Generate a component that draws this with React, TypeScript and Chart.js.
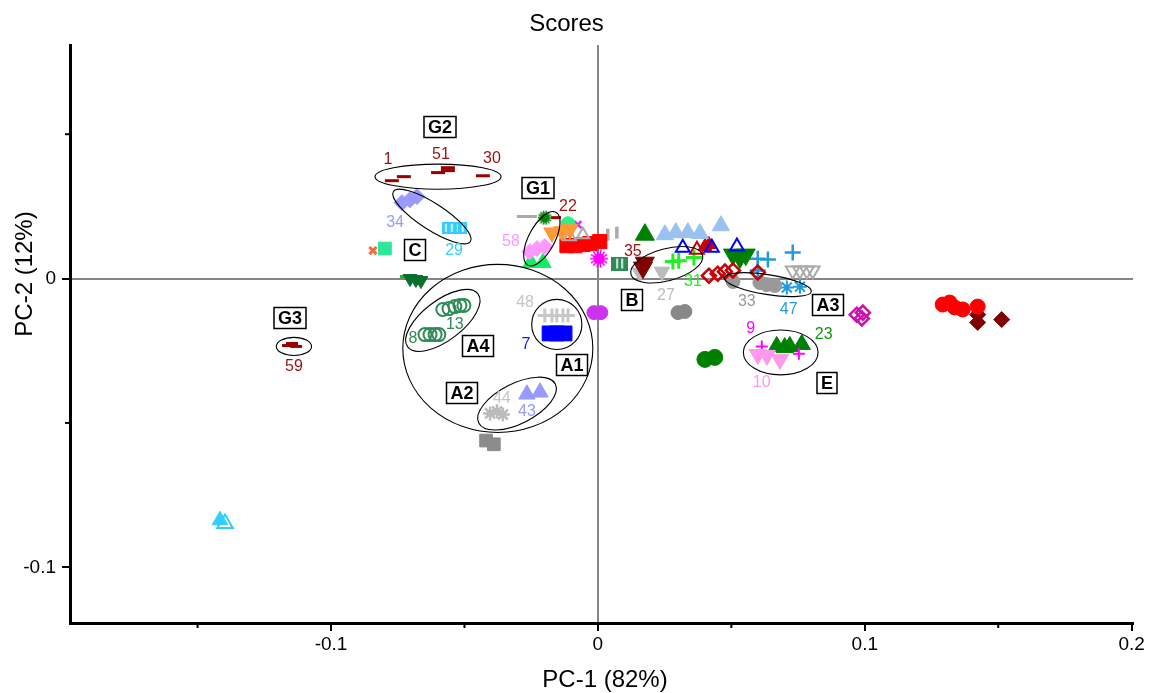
import React, { useEffect, useRef } from 'react';
import { Chart, registerables } from 'chart.js';

Chart.register(...registerables);

type Pt = [number, number];

const FONT = "'Liberation Sans', Arial, Helvetica, sans-serif";

// Axis extents and tick spacing
const xRange: Pt = [-0.1978, 0.2005];
const yRange: Pt = [-0.1193, 0.0809];
const tickStep = 0.05;

// Score coordinates (PC-1, PC-2) for each sample group
const cyanTriFilled: Pt[] = [[-0.1416, -0.0837]];
const cyanTriOpen: Pt[] = [[-0.1397, -0.0848]];
const s59: Pt[] = [[-0.1161, -0.0232], [-0.1131, -0.0235], [-0.1146, -0.0225]];
const s1_51_30: Pt[] = [[-0.0772, 0.0339], [-0.0727, 0.0353], [-0.0599, 0.0367], [-0.0562, 0.0384], [-0.0562, 0.0374], [-0.0431, 0.0356]];
const s34: Pt[] = [[-0.0734, 0.0263], [-0.0704, 0.0273], [-0.0678, 0.0284]];
const s29: Pt[] = [[-0.0569, 0.0176], [-0.0547, 0.0176], [-0.0524, 0.0176], [-0.0506, 0.0176]];
const cOrangeX: Pt[] = [[-0.0843, 0.0097]];
const cTeal: Pt[] = [[-0.0798, 0.0104]];
const cOrangeSmall: Pt[] = [[-0.0794, 0.0100]];
const cGreenDown: Pt[] = [[-0.0704, 0.0], [-0.0682, -0.0003], [-0.0663, -0.0007]];
const cGreenDash: Pt[] = [[-0.0723, 0.0007]];
const s13: Pt[] = [[-0.0581, -0.0107], [-0.0558, -0.0104], [-0.0536, -0.0097], [-0.0517, -0.0093], [-0.0502, -0.0093]];
const s8: Pt[] = [[-0.0648, -0.0194], [-0.0629, -0.0194], [-0.0610, -0.0194], [-0.0596, -0.0194]];
const s48: Pt[] = [[-0.0199, -0.0128], [-0.0172, -0.0128], [-0.0154, -0.0128], [-0.0131, -0.0128], [-0.0112, -0.0128]];
const s7: Pt[] = [[-0.0181, -0.0190], [-0.0154, -0.0190], [-0.0125, -0.0190]];
const s44: Pt[] = [[-0.0404, -0.0467], [-0.0378, -0.0460], [-0.0356, -0.0471]];
const s43: Pt[] = [[-0.0266, -0.0401], [-0.0217, -0.0394]];
const graySquares: Pt[] = [[-0.0419, -0.0561], [-0.0390, -0.0574]];
const g1GrayDash: Pt[] = [[-0.0266, 0.0215]];
const s58: Pt[] = [[-0.0255, 0.0093], [-0.0228, 0.0104], [-0.0199, 0.0111]];
const g1Flower: Pt[] = [[-0.0199, 0.0211]];
const s22: Pt[] = [[-0.0157, 0.0211]];
const brightGreenTri: Pt[] = [[-0.0251, 0.0055], [-0.0206, 0.0055]];
const orangeDown: Pt[] = [[-0.0172, 0.0159], [-0.0135, 0.0163], [-0.0105, 0.0170]];
const mintCircle: Pt[] = [[-0.0112, 0.0190]];
const grayOpenTri: Pt[] = [[-0.0105, 0.0145], [-0.0056, 0.0152]];
const violetX: Pt[] = [[-0.0075, 0.0187]];
const redSquares: Pt[] = [[-0.0116, 0.0114], [-0.0086, 0.0114], [-0.0056, 0.0118], [-0.0030, 0.0121], [0.0007, 0.0128]];
const grayBars: Pt[] = [[0.0037, 0.0152], [0.0071, 0.0159]];
const magentaBurst: Pt[] = [[0.0004, 0.0069]];
const seaBarbox: Pt[] = [[0.0082, 0.0052]];
const purpleCircles: Pt[] = [[-0.0015, -0.0118], [0.0011, -0.0118]];
const greenTri: Pt[] = [[0.0176, 0.0152]];
const steelTri: Pt[] = [[0.0251, 0.0152], [0.0292, 0.0159], [0.0337, 0.0159], [0.0382, 0.0156], [0.0461, 0.0183]];
const blueOpenTri: Pt[] = [[0.0318, 0.0107], [0.0427, 0.0107], [0.0521, 0.0111]];
const redOpenTri: Pt[] = [[0.0371, 0.0100]];
const redTri: Pt[] = [[0.0401, 0.0111], [0.0416, 0.0118]];
const s35: Pt[] = [[0.0176, 0.0055], [0.0169, 0.0038]];
const s27: Pt[] = [[0.0157, 0.0021], [0.0240, 0.0024]];
const s31: Pt[] = [[0.0281, 0.0059], [0.0303, 0.0062], [0.0360, 0.0073]];
const redOpenDiamonds: Pt[] = [[0.0416, 0.0010], [0.0449, 0.0017], [0.0476, 0.0024], [0.0506, 0.0028], [0.0599, 0.0021]];
const greenDown: Pt[] = [[0.0506, 0.0083], [0.0532, 0.0073], [0.0554, 0.0083]];
const blueCross: Pt[] = [[0.0599, 0.0069], [0.0637, 0.0066], [0.0730, 0.0090], [0.0599, 0.0028]];
const s33: Pt[] = [[0.0506, -0.0010], [0.0607, -0.0014], [0.0633, -0.0021], [0.0663, -0.0024]];
const s47: Pt[] = [[0.0708, -0.0031], [0.0757, -0.0028]];
const grayOpenDown: Pt[] = [[0.0730, 0.0028], [0.0757, 0.0028], [0.0783, 0.0028], [0.0805, 0.0028]];
const grayCircles: Pt[] = [[0.0300, -0.0118], [0.0326, -0.0114]];
const darkGreenCircles: Pt[] = [[0.0401, -0.0280], [0.0438, -0.0273]];
const s10: Pt[] = [[0.0599, -0.0263], [0.0633, -0.0266], [0.0682, -0.0280]];
const s9: Pt[] = [[0.0614, -0.0235], [0.0753, -0.0260]];
const s23: Pt[] = [[0.0670, -0.0235], [0.0700, -0.0239], [0.0719, -0.0235], [0.0764, -0.0228]];
const magentaDiamonds: Pt[] = [[0.0970, -0.0125], [0.0993, -0.0118], [0.0989, -0.0138]];
const redCircles: Pt[] = [[0.1292, -0.0090], [0.1318, -0.0083], [0.1337, -0.0100], [0.1367, -0.0107], [0.1423, -0.0097]];
const darkRedDiamonds: Pt[] = [[0.1423, -0.0125], [0.1423, -0.0152], [0.1513, -0.0142]];

// Sample number labels: text, PC-1, PC-2, colour
const sampleLabels: [string, number, number, string][] = [
  ['1', -0.0787, 0.0412, '#991111'],
  ['51', -0.0588, 0.0429, '#991111'],
  ['30', -0.0397, 0.0415, '#991111'],
  ['34', -0.0760, 0.0194, '#9999ff'],
  ['29', -0.0539, 0.0097, '#33ccff'],
  ['22', -0.0112, 0.0249, '#991111'],
  ['58', -0.0326, 0.0128, '#ff99ff'],
  ['59', -0.1139, -0.0304, '#991111'],
  ['13', -0.0536, -0.0159, '#2e8b57'],
  ['8', -0.0693, -0.0208, '#2e8b57'],
  ['48', -0.0273, -0.0083, '#c4c4c4'],
  ['7', -0.0270, -0.0228, '#1a1aee'],
  ['44', -0.0360, -0.0415, '#c4c4c4'],
  ['43', -0.0266, -0.0460, '#9999ff'],
  ['35', 0.0131, 0.0093, '#991111'],
  ['27', 0.0255, -0.0059, '#bbbbbb'],
  ['31', 0.0356, -0.0010, '#22ee22'],
  ['33', 0.0558, -0.0080, '#999999'],
  ['47', 0.0715, -0.0107, '#2299dd'],
  ['9', 0.0573, -0.0173, '#ff00ff'],
  ['23', 0.0846, -0.0194, '#119911'],
  ['10', 0.0614, -0.0360, '#ff99ee'],
];

// Group names in boxes: text, PC-1, PC-2
const groupBoxes: [string, number, number][] = [
  ['G2', -0.0592, 0.0526],
  ['G1', -0.0225, 0.0315],
  ['C', -0.0685, 0.0100],
  ['G3', -0.1154, -0.0138],
  ['A4', -0.0449, -0.0235],
  ['A1', -0.0097, -0.0301],
  ['A2', -0.0509, -0.0398],
  ['B', 0.0127, -0.0073],
  ['A3', 0.0861, -0.0090],
  ['E', 0.0858, -0.0363],
];

// Group ellipses: centre PC-1, centre PC-2, semi-axes (PC-1 units), tilt in degrees
const groupEllipses: [number, number, number, number, number][] = [
  [-0.0599, 0.0353, 0.0236, 0.0047, 0],
  [-0.0622, 0.0215, 0.0172, 0.0049, 33],
  [-0.0210, 0.0138, 0.0112, 0.0049, -62],
  [-0.1139, -0.0235, 0.0066, 0.0034, 0],
  [-0.0581, -0.0145, 0.0165, 0.0075, -37],
  [-0.0154, -0.0159, 0.0094, 0.0094, 0],
  [-0.0375, -0.0242, 0.0356, 0.0315, 0],
  [-0.0303, -0.0433, 0.0161, 0.0075, -27],
  [0.0258, 0.0048, 0.0139, 0.0060, -15],
  [0.0637, -0.0021, 0.0165, 0.0037, 9],
  [0.0685, -0.0256, 0.0140, 0.0084, 0],
];

type Shape = 'circle' | 'triangle' | 'down' | 'rect' | 'rectRot' | 'cross' | 'crossRot' | 'star' | 'line' | 'vbar' | 'barbox' | 'barbox2' | 'burst';
interface Series { pts: Pt[]; shape: Shape; color: string; r: number; open?: boolean; bw?: number; }

const series: Series[] = [
  { pts: cyanTriFilled, shape: 'triangle', color: '#33ccff', r: 9 },
  { pts: cyanTriOpen, shape: 'triangle', color: '#33ccff', r: 9, open: true, bw: 2 },
  { pts: s59, shape: 'line', color: '#990000', r: 6, bw: 3 },
  { pts: s1_51_30, shape: 'line', color: '#990000', r: 7, bw: 3 },
  { pts: s34, shape: 'rectRot', color: '#9999ff', r: 8 },
  { pts: s29, shape: 'barbox', color: '#33ccff', r: 6 },
  { pts: cOrangeX, shape: 'crossRot', color: '#ff6633', r: 5, bw: 3 },
  { pts: cTeal, shape: 'rect', color: '#2ee69a', r: 9 },
  { pts: cOrangeSmall, shape: 'rect', color: '#ff6633', r: 3.5 },
  { pts: cGreenDown, shape: 'down', color: '#0a6e2e', r: 8 },
  { pts: cGreenDash, shape: 'line', color: '#00cc00', r: 5, bw: 3 },
  { pts: s13, shape: 'circle', color: '#2e8b57', r: 6.5, open: true, bw: 2 },
  { pts: s8, shape: 'circle', color: '#2e8b57', r: 6.5, open: true, bw: 2 },
  { pts: s48, shape: 'cross', color: '#c8c8c8', r: 7, bw: 3 },
  { pts: s7, shape: 'rect', color: '#0000ff', r: 10.5 },
  { pts: s44, shape: 'star', color: '#bbbbbb', r: 7, bw: 2.5 },
  { pts: s43, shape: 'triangle', color: '#9999ff', r: 9.5 },
  { pts: graySquares, shape: 'rect', color: '#8c8c8c', r: 9 },
  { pts: g1GrayDash, shape: 'line', color: '#aaaaaa', r: 10, bw: 3 },
  { pts: s58, shape: 'rectRot', color: '#ff99ff', r: 8 },
  { pts: g1Flower, shape: 'burst', color: '#008000', r: 7 },
  { pts: s22, shape: 'line', color: '#990000', r: 5, bw: 3 },
  { pts: brightGreenTri, shape: 'triangle', color: '#11ee66', r: 9.5 },
  { pts: orangeDown, shape: 'down', color: '#ff9933', r: 9.5 },
  { pts: mintCircle, shape: 'circle', color: '#33ee88', r: 7 },
  { pts: grayOpenTri, shape: 'triangle', color: '#aaaaaa', r: 7, open: true, bw: 2 },
  { pts: violetX, shape: 'crossRot', color: '#cc33ee', r: 5, bw: 2.5 },
  { pts: redSquares, shape: 'rect', color: '#ff0000', r: 10 },
  { pts: grayBars, shape: 'vbar', color: '#aaaaaa', r: 6, bw: 3.5 },
  { pts: magentaBurst, shape: 'burst', color: '#ff00ff', r: 9 },
  { pts: seaBarbox, shape: 'barbox2', color: '#2e8b57', r: 8 },
  { pts: purpleCircles, shape: 'circle', color: '#cc33ee', r: 7 },
  { pts: greenTri, shape: 'triangle', color: '#008000', r: 11 },
  { pts: steelTri, shape: 'triangle', color: '#99c2ee', r: 10 },
  { pts: blueOpenTri, shape: 'triangle', color: '#0000ff', r: 8, open: true, bw: 2 },
  { pts: redOpenTri, shape: 'triangle', color: '#cc0000', r: 8, open: true, bw: 2 },
  { pts: redTri, shape: 'triangle', color: '#cc0000', r: 8 },
  { pts: s35, shape: 'down', color: '#800000', r: 11 },
  { pts: s27, shape: 'down', color: '#bbbbbb', r: 9 },
  { pts: s31, shape: 'cross', color: '#22ee22', r: 8, bw: 3 },
  { pts: redOpenDiamonds, shape: 'rectRot', color: '#cc0000', r: 7, open: true, bw: 2.5 },
  { pts: greenDown, shape: 'down', color: '#008000', r: 11 },
  { pts: blueCross, shape: 'cross', color: '#2299dd', r: 8, bw: 2.5 },
  { pts: s33, shape: 'circle', color: '#999999', r: 7 },
  { pts: s47, shape: 'star', color: '#2299dd', r: 7, bw: 2 },
  { pts: grayOpenDown, shape: 'down', color: '#aaaaaa', r: 8, open: true, bw: 2 },
  { pts: grayCircles, shape: 'circle', color: '#888888', r: 7 },
  { pts: darkGreenCircles, shape: 'circle', color: '#008000', r: 8 },
  { pts: s10, shape: 'down', color: '#ff99ee', r: 10 },
  { pts: s9, shape: 'cross', color: '#ff00ff', r: 6, bw: 2 },
  { pts: s23, shape: 'triangle', color: '#008000', r: 10 },
  { pts: magentaDiamonds, shape: 'rectRot', color: '#cc11aa', r: 7, open: true, bw: 2.5 },
  { pts: redCircles, shape: 'circle', color: '#ff0000', r: 7.5 },
  { pts: darkRedDiamonds, shape: 'rectRot', color: '#800000', r: 8 },
];

// Small canvas glyphs for the marker types Chart.js has no built-in style for
function stripedBox(color: string, w: number, h: number, stripes: number[]) {
  const c = document.createElement('canvas');
  c.width = w;
  c.height = h;
  const g = c.getContext('2d')!;
  g.fillStyle = color;
  g.fillRect(0, 0, w, h);
  g.fillStyle = '#ffffff';
  stripes.forEach((sx) => g.fillRect(sx, 2, 1.6, h - 4));
  return c;
}

function burst(color: string, radius: number) {
  const size = Math.ceil(radius * 2 + 2);
  const c = document.createElement('canvas');
  c.width = size;
  c.height = size;
  const g = c.getContext('2d')!;
  const m = size / 2;
  g.strokeStyle = color;
  g.fillStyle = color;
  g.lineWidth = 1.6;
  for (let i = 0; i < 14; i++) {
    const a = (i / 14) * Math.PI * 2;
    g.beginPath();
    g.moveTo(m, m);
    g.lineTo(m + Math.cos(a) * radius, m + Math.sin(a) * radius);
    g.stroke();
  }
  g.beginPath();
  g.arc(m, m, radius * 0.62, 0, Math.PI * 2);
  g.fill();
  return c;
}

const isMajor = (v: number) => Math.abs(v * 10 - Math.round(v * 10)) < 1e-6;
const tickText = (v: number) => (isMajor(v) ? String(Math.round(v * 10) / 10) : '');

const overlayPlugin = {
  id: 'scoreOverlay',
  afterDatasetsDraw(chart: any) {
    const { ctx } = chart;
    const x = chart.scales.x;
    const y = chart.scales.y;
    const pxPerUnit = Math.abs(x.getPixelForValue(1) - x.getPixelForValue(0));
    ctx.save();
    ctx.strokeStyle = '#000';
    ctx.lineWidth = 1.1;
    for (const [cx, cy, a, b, ang] of groupEllipses) {
      ctx.beginPath();
      ctx.ellipse(x.getPixelForValue(cx), y.getPixelForValue(cy), a * pxPerUnit, b * pxPerUnit, (ang * Math.PI) / 180, 0, Math.PI * 2);
      ctx.stroke();
    }
    ctx.textAlign = 'center';
    ctx.textBaseline = 'middle';
    ctx.font = `16px ${FONT}`;
    for (const [t, lx, ly, col] of sampleLabels) {
      ctx.fillStyle = col;
      ctx.fillText(t, x.getPixelForValue(lx), y.getPixelForValue(ly));
    }
    ctx.font = `bold 18px ${FONT}`;
    for (const [t, bx, by] of groupBoxes) {
      const px = Math.round(x.getPixelForValue(bx));
      const py = Math.round(y.getPixelForValue(by));
      const w = Math.round(ctx.measureText(t).width + 8);
      const h = 21;
      ctx.fillStyle = '#fff';
      ctx.fillRect(px - w / 2, py - h / 2, w, h);
      ctx.strokeStyle = '#000';
      ctx.lineWidth = 1.5;
      ctx.strokeRect(px - w / 2, py - h / 2, w, h);
      ctx.fillStyle = '#000';
      ctx.fillText(t, px, py + 1);
    }
    ctx.restore();
  },
  afterDraw(chart: any) {
    const { ctx, chartArea } = chart;
    const x = chart.scales.x;
    const y = chart.scales.y;
    ctx.save();
    // minor tick marks
    ctx.strokeStyle = '#000';
    ctx.lineWidth = 2;
    for (const t of x.ticks) {
      if (isMajor(t.value)) continue;
      const px = x.getPixelForValue(t.value);
      ctx.beginPath();
      ctx.moveTo(px, chartArea.bottom);
      ctx.lineTo(px, chartArea.bottom + 5);
      ctx.stroke();
    }
    for (const t of y.ticks) {
      if (isMajor(t.value)) continue;
      const py = y.getPixelForValue(t.value);
      ctx.beginPath();
      ctx.moveTo(chartArea.left - 5, py);
      ctx.lineTo(chartArea.left, py);
      ctx.stroke();
    }
    // axis titles
    ctx.fillStyle = '#000';
    ctx.font = `24px ${FONT}`;
    ctx.textAlign = 'center';
    ctx.textBaseline = 'middle';
    ctx.fillText('PC-1 (82%)', 605, 680);
    ctx.translate(25, 274);
    ctx.rotate(-Math.PI / 2);
    ctx.fillText('PC-2 (12%)', 0, 0);
    ctx.restore();
  },
};

export default function App() {
  const ref = useRef<HTMLCanvasElement | null>(null);

  useEffect(() => {
    if (!ref.current) return;
    const custom: Record<string, (c: string, r: number) => HTMLCanvasElement> = {
      barbox: (c) => stripedBox(c, 9, 12, [3.7]),
      barbox2: (c) => stripedBox(c, 17, 14, [5, 10]),
      burst: (c, r) => burst(c, r),
    };
    const datasets = series.map((s) => {
      let pointStyle: any = s.shape;
      let rotation = 0;
      if (s.shape === 'down') { pointStyle = 'triangle'; rotation = 180; }
      if (s.shape === 'vbar') { pointStyle = 'line'; rotation = 90; }
      if (custom[s.shape]) pointStyle = custom[s.shape](s.color, s.r);
      const stroked = ['cross', 'crossRot', 'star', 'line', 'vbar'].includes(s.shape);
      return {
        data: s.pts.map(([px, py]) => ({ x: px, y: py })),
        pointStyle,
        rotation,
        pointRadius: s.r,
        pointHoverRadius: s.r,
        backgroundColor: s.open || stroked ? 'rgba(0,0,0,0)' : s.color,
        borderColor: s.color,
        borderWidth: s.open || stroked ? s.bw ?? 2 : 1,
        showLine: false,
      };
    });

    const gridFor = () => ({
      drawOnChartArea: true,
      drawTicks: true,
      tickLength: 8,
      tickWidth: 2,
      lineWidth: 2,
      color: (c: any) => (c.tick && Math.abs(c.tick.value) < 1e-9 ? '#858585' : 'rgba(0,0,0,0)'),
      tickColor: (c: any) => (c.tick && isMajor(c.tick.value) ? '#000' : 'rgba(0,0,0,0)'),
    });

    const chart = new Chart(ref.current, {
      type: 'scatter',
      data: { datasets },
      plugins: [overlayPlugin],
      options: {
        animation: false,
        responsive: false,
        devicePixelRatio: 1,
        events: [],
        layout: { padding: { left: 0, right: 17, top: 0, bottom: 0 } },
        plugins: {
          legend: { display: false },
          tooltip: { enabled: false },
          title: {
            display: true,
            text: 'Scores',
            color: '#000',
            font: { family: FONT, size: 24, weight: 'normal' },
            padding: { top: 9.6, bottom: 6.6 },
          },
        },
        scales: {
          x: {
            type: 'linear',
            min: xRange[0],
            max: xRange[1],
            afterFit: (scale: any) => { scale.height = 70; },
            border: { display: true, color: '#000', width: 3 },
            grid: gridFor(),
            ticks: {
              stepSize: tickStep,
              includeBounds: false,
              autoSkip: false,
              maxRotation: 0,
              padding: 2,
              color: '#000',
              font: { family: FONT, size: 19 },
              callback: (v: any) => tickText(Number(v)),
            },
          },
          y: {
            type: 'linear',
            min: yRange[0],
            max: yRange[1],
            afterFit: (scale: any) => { scale.width = 70; },
            border: { display: true, color: '#000', width: 3 },
            grid: gridFor(),
            ticks: {
              stepSize: tickStep,
              includeBounds: false,
              autoSkip: false,
              padding: 6,
              color: '#000',
              font: { family: FONT, size: 19 },
              callback: (v: any) => tickText(Number(v)),
            },
          },
        },
      } as any,
    });
    return () => chart.destroy();
  }, []);

  return (
    <div style={{ position: 'fixed', left: 0, top: 0, width: 1150, height: 693, background: '#fff' }}>
      <canvas ref={ref} width={1150} height={693} style={{ width: 1150, height: 693, display: 'block' }} />
    </div>
  );
}
